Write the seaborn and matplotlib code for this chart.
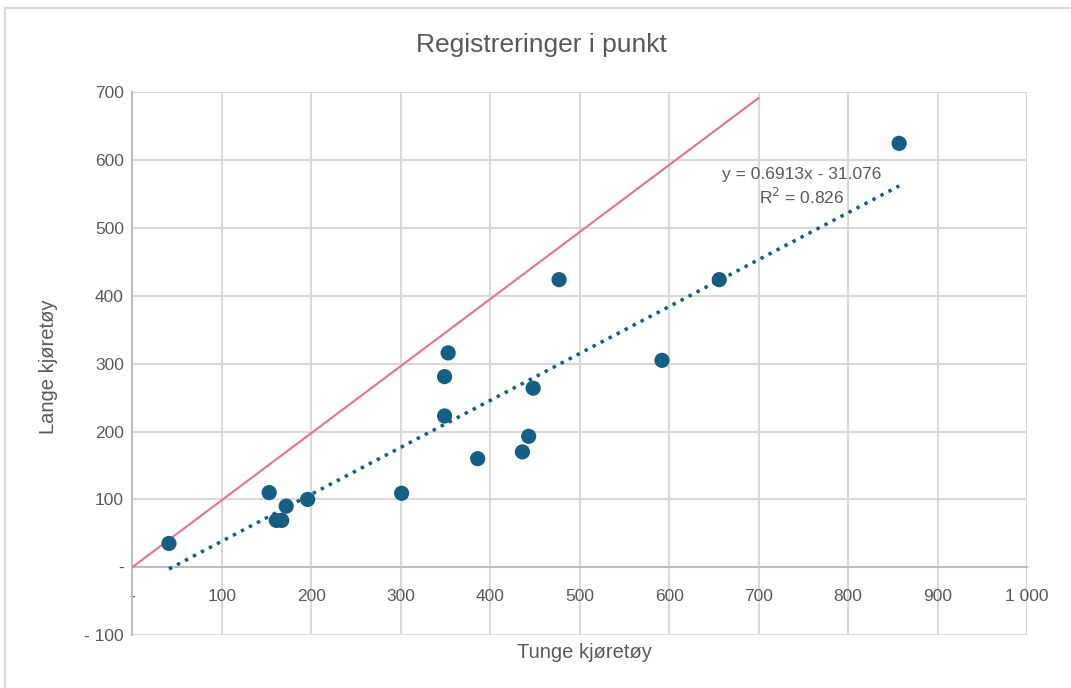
import numpy as np
import pandas as pd
import matplotlib
matplotlib.use('Agg')
import matplotlib.pyplot as plt
import seaborn as sns
from matplotlib.patches import Rectangle

# data
tunge = [41, 153, 161, 167, 172, 196, 301, 349, 349, 353, 386, 436, 443, 448, 477, 592, 656, 857]
lange = [35, 110, 69, 69, 90, 100, 109, 223, 281, 316, 160, 170, 193, 264, 424, 305, 424, 625]
ref_x = [0, 700]
ref_y = [0, 692]

x_ticks = [0, 100, 200, 300, 400, 500, 600, 700, 800, 900, 1000]
x_labels = ['-', '100', '200', '300', '400', '500', '600', '700', '800', '900', '1 000']
y_ticks = [-100, 0, 100, 200, 300, 400, 500, 600, 700]
y_labels = ['- 100', '-', '100', '200', '300', '400', '500', '600', '700']

df = pd.DataFrame({'Tunge kjøretøy': tunge, 'Lange kjøretøy': lange})

sns.set_style('white')
plt.rcParams['font.family'] = ['Liberation Sans', 'DejaVu Sans']
narrow = ['Liberation Sans Narrow', 'Liberation Sans', 'DejaVu Sans']

blue = '#156082'
grey_txt = '#595959'

fig = plt.figure(figsize=(10.71, 6.88), dpi=100)
# chart frame
fig.patches.append(Rectangle((0.0045, -0.02), 1.2, 1.008, transform=fig.transFigure,
                             fill=False, edgecolor='#d9d9d9', linewidth=1.5, zorder=0))
ax = fig.add_axes([0.1235, 0.077, 0.8355, 0.7886])

ax.plot(ref_x, ref_y, color='#e8708a', linewidth=1.5, zorder=3)
sns.regplot(data=df, x='Tunge kjøretøy', y='Lange kjøretøy', ax=ax, ci=None,
            scatter_kws=dict(s=120, color=blue, edgecolor='none', zorder=4, alpha=1),
            line_kws=dict(color=blue, linestyle=(0, (1, 1.6)), linewidth=2.5, zorder=3))

ax.set_xlim(0, 1000)
ax.set_ylim(-100, 700)
ax.set_xticks(x_ticks)
ax.set_xticklabels(x_labels)
ax.set_yticks(y_ticks)
ax.set_yticklabels(y_labels)
ax.grid(True, color='#d9d9d9', linewidth=1.5)
ax.set_axisbelow(True)

for s in ['top', 'right']:
    ax.spines[s].set_visible(False)
ax.spines['bottom'].set_position(('data', 0))
ax.spines['bottom'].set_color('#bfbfbf')
ax.spines['bottom'].set_linewidth(1.5)
ax.spines['left'].set_color('#bfbfbf')
ax.spines['left'].set_linewidth(1.5)
ax.tick_params(axis='both', length=0, labelsize=12.5, colors=grey_txt)
ax.tick_params(axis='x', pad=16)
ax.tick_params(axis='y', pad=6)

ax.set_xlabel('')
ax.set_ylabel('')
fig.text(0.546, 0.052, 'Tunge kjøretøy', ha='center', va='center', fontsize=14.5,
         color=grey_txt, family=narrow)
fig.text(0.045, 0.467, 'Lange kjøretøy', ha='center', va='center', rotation=90,
         fontsize=14.5, color=grey_txt, family=narrow)
fig.text(0.506, 0.934, 'Registreringer i punkt', ha='center', va='center', fontsize=19,
         color=grey_txt, family=narrow)

ax.text(748, 579, 'y = 0.6913x - 31.076', ha='center', va='center', fontsize=12.5, color=grey_txt)
ax.text(748, 546, 'R$^2$ = 0.826', ha='center', va='center', fontsize=12.5, color=grey_txt)

fig.savefig('out.png', dpi=100)
